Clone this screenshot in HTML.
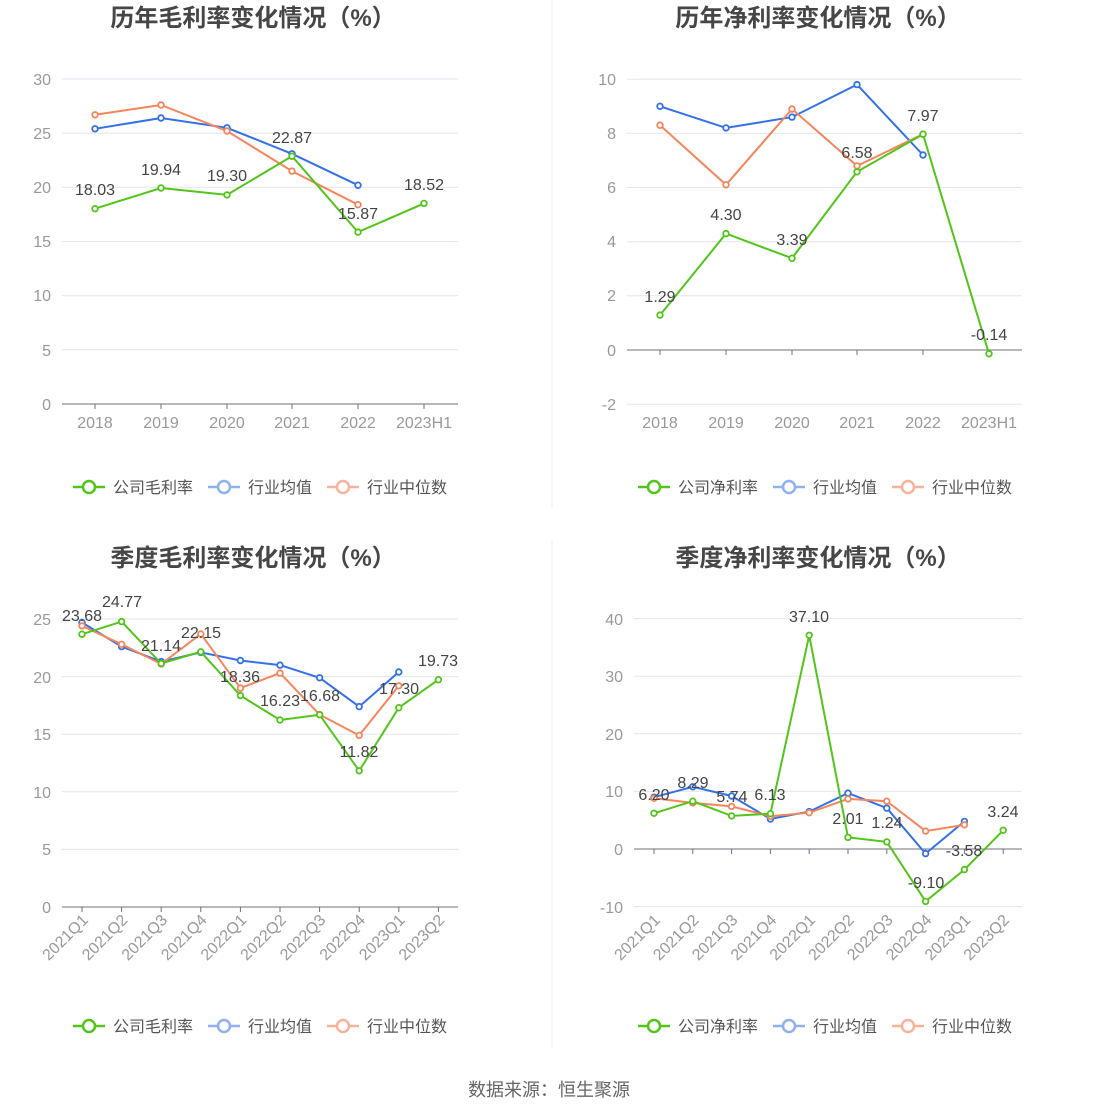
<!DOCTYPE html>
<html><head><meta charset="utf-8"><style>
body{margin:0;background:#fff;}
svg{display:block;font-family:"Liberation Sans","Noto Sans CJK SC",sans-serif;}
.t{font-size:24px;font-weight:bold;fill:#464646;text-anchor:middle}
.ax{font-size:16px;fill:#999;}
.g{stroke:#e3e6ee;stroke-width:1}
.dl{font-size:16px;fill:#444;text-anchor:middle}
.lg{font-size:16px;fill:#555}
</style></head><body>
<svg width="1098" height="1116" viewBox="0 0 1098 1116">
<defs>
<marker id="mg" markerUnits="userSpaceOnUse" markerWidth="10" markerHeight="10" refX="5" refY="5"><circle cx="5" cy="5" r="2.8" fill="#fff" stroke="#52c41a" stroke-width="1.8"/></marker>
<marker id="mb" markerUnits="userSpaceOnUse" markerWidth="10" markerHeight="10" refX="5" refY="5"><circle cx="5" cy="5" r="2.8" fill="#fff" stroke="#3470e8" stroke-width="1.8"/></marker>
<marker id="mo" markerUnits="userSpaceOnUse" markerWidth="10" markerHeight="10" refX="5" refY="5"><circle cx="5" cy="5" r="2.8" fill="#fff" stroke="#f5855b" stroke-width="1.8"/></marker>
</defs>
<style>
.lg1{fill:none;stroke:#52c41a;stroke-width:2;marker-start:url(#mg);marker-mid:url(#mg);marker-end:url(#mg)}
.lb{fill:none;stroke:#3470e8;stroke-width:2;marker-start:url(#mb);marker-mid:url(#mb);marker-end:url(#mb)}
.lo{fill:none;stroke:#f5855b;stroke-width:2;marker-start:url(#mo);marker-mid:url(#mo);marker-end:url(#mo)}
</style>
<line x1="552" y1="0" x2="552" y2="508" stroke="#eee"/>
<line x1="552" y1="540" x2="552" y2="1048" stroke="#eee"/>

<!-- Chart 1 -->
<text class="t" x="253" y="26">历年毛利率变化情况（%）</text>
<g class="g"><line x1="62" x2="458" y1="79" y2="79"/><line x1="62" x2="458" y1="133.2" y2="133.2"/><line x1="62" x2="458" y1="187.3" y2="187.3"/><line x1="62" x2="458" y1="241.5" y2="241.5"/><line x1="62" x2="458" y1="295.7" y2="295.7"/><line x1="62" x2="458" y1="349.8" y2="349.8"/></g>
<line x1="62" x2="458" y1="404" y2="404" stroke="#6e7079"/>
<g stroke="#6e7079"><line x1="95" x2="95" y1="404" y2="409"/><line x1="161" x2="161" y1="404" y2="409"/><line x1="227" x2="227" y1="404" y2="409"/><line x1="292" x2="292" y1="404" y2="409"/><line x1="358" x2="358" y1="404" y2="409"/><line x1="424" x2="424" y1="404" y2="409"/></g>
<g class="ax" text-anchor="end"><text x="51" y="85">30</text><text x="51" y="139">25</text><text x="51" y="193">20</text><text x="51" y="247">15</text><text x="51" y="301">10</text><text x="51" y="356">5</text><text x="51" y="410">0</text></g>
<g class="ax" text-anchor="middle"><text x="95" y="428">2018</text><text x="161" y="428">2019</text><text x="227" y="428">2020</text><text x="292" y="428">2021</text><text x="358" y="428">2022</text><text x="424" y="428">2023H1</text></g>
<polyline class="lb" points="95,128.8 161,118 227,127.8 292,153.8 358,185.2"/>
<polyline class="lo" points="95,114.8 161,105 227,131 292,171.1 358,204.7"/>
<polyline class="lg1" points="95,208.7 161,188 227,194.9 292,156.2 358,232.1 424,203.4"/>
<g class="dl"><text x="95" y="195">18.03</text><text x="161" y="175">19.94</text><text x="227" y="181">19.30</text><text x="292" y="143">22.87</text><text x="358" y="219">15.87</text><text x="424" y="190">18.52</text></g>

<!-- Chart 2 -->
<text class="t" x="818" y="26">历年净利率变化情况（%）</text>
<g class="g"><line x1="627" x2="1022" y1="79.2" y2="79.2"/><line x1="627" x2="1022" y1="133.4" y2="133.4"/><line x1="627" x2="1022" y1="187.5" y2="187.5"/><line x1="627" x2="1022" y1="241.7" y2="241.7"/><line x1="627" x2="1022" y1="295.8" y2="295.8"/><line x1="627" x2="1022" y1="404.2" y2="404.2"/></g>
<line x1="627" x2="1022" y1="350" y2="350" stroke="#6e7079"/>
<g stroke="#6e7079"><line x1="660" x2="660" y1="350" y2="355"/><line x1="726" x2="726" y1="350" y2="355"/><line x1="792" x2="792" y1="350" y2="355"/><line x1="857" x2="857" y1="350" y2="355"/><line x1="923" x2="923" y1="350" y2="355"/><line x1="989" x2="989" y1="350" y2="355"/></g>
<g class="ax" text-anchor="end"><text x="616" y="85">10</text><text x="616" y="139">8</text><text x="616" y="193">6</text><text x="616" y="247">4</text><text x="616" y="301">2</text><text x="616" y="356">0</text><text x="616" y="410">-2</text></g>
<g class="ax" text-anchor="middle"><text x="660" y="428">2018</text><text x="726" y="428">2019</text><text x="792" y="428">2020</text><text x="857" y="428">2021</text><text x="923" y="428">2022</text><text x="989" y="428">2023H1</text></g>
<polyline class="lb" points="660,106.3 726,127.9 792,117.1 857,84.6 923,155"/>
<polyline class="lo" points="660,125.2 726,184.8 792,109 857,165.9 923,134.2"/>
<polyline class="lg1" points="660,315.1 726,233.6 792,258.2 857,171.8 923,134.2 989,353.8"/>
<g class="dl"><text x="660" y="302">1.29</text><text x="726" y="220">4.30</text><text x="792" y="245">3.39</text><text x="857" y="158">6.58</text><text x="923" y="121">7.97</text><text x="989" y="340">-0.14</text></g>

<!-- Chart 3 -->
<text class="t" x="253" y="566">季度毛利率变化情况（%）</text>
<g class="g"><line x1="62" x2="458" y1="619" y2="619"/><line x1="62" x2="458" y1="676.6" y2="676.6"/><line x1="62" x2="458" y1="734.2" y2="734.2"/><line x1="62" x2="458" y1="791.8" y2="791.8"/><line x1="62" x2="458" y1="849.4" y2="849.4"/></g>
<line x1="62" x2="458" y1="907" y2="907" stroke="#6e7079"/>
<g stroke="#6e7079"><line x1="82" x2="82" y1="907" y2="912"/><line x1="121.6" x2="121.6" y1="907" y2="912"/><line x1="161.2" x2="161.2" y1="907" y2="912"/><line x1="200.8" x2="200.8" y1="907" y2="912"/><line x1="240.4" x2="240.4" y1="907" y2="912"/><line x1="280" x2="280" y1="907" y2="912"/><line x1="319.6" x2="319.6" y1="907" y2="912"/><line x1="359.2" x2="359.2" y1="907" y2="912"/><line x1="398.8" x2="398.8" y1="907" y2="912"/><line x1="438.4" x2="438.4" y1="907" y2="912"/></g>
<g class="ax" text-anchor="end"><text x="51" y="625">25</text><text x="51" y="683">20</text><text x="51" y="740">15</text><text x="51" y="798">10</text><text x="51" y="855">5</text><text x="51" y="913">0</text></g>
<g class="ax" text-anchor="end">
<text transform="translate(89,921) rotate(-45)">2021Q1</text><text transform="translate(128.6,921) rotate(-45)">2021Q2</text><text transform="translate(168.2,921) rotate(-45)">2021Q3</text><text transform="translate(207.8,921) rotate(-45)">2021Q4</text><text transform="translate(247.4,921) rotate(-45)">2022Q1</text><text transform="translate(287,921) rotate(-45)">2022Q2</text><text transform="translate(326.6,921) rotate(-45)">2022Q3</text><text transform="translate(366.2,921) rotate(-45)">2022Q4</text><text transform="translate(405.8,921) rotate(-45)">2023Q1</text><text transform="translate(445.4,921) rotate(-45)">2023Q2</text></g>
<polyline class="lb" points="82,622.5 121.6,646.6 161.2,661.6 200.8,652.4 240.4,660.5 280,665.1 319.6,677.8 359.2,706.6 398.8,672"/>
<polyline class="lo" points="82,625.9 121.6,644.3 161.2,664 200.8,634 240.4,688.1 280,673.1 319.6,714.6 359.2,735.4 398.8,685.8"/>
<polyline class="lg1" points="82,634.2 121.6,621.6 161.2,663.5 200.8,651.8 240.4,695.5 280,720 319.6,714.8 359.2,770.8 398.8,707.7 438.4,679.7"/>
<g class="dl"><text x="82" y="621">23.68</text><text x="122" y="607">24.77</text><text x="161" y="651">21.14</text><text x="201" y="638">22.15</text><text x="240" y="682">18.36</text><text x="280" y="706">16.23</text><text x="320" y="701">16.68</text><text x="359" y="757">11.82</text><text x="399" y="694">17.30</text><text x="438" y="666">19.73</text></g>

<!-- Chart 4 -->
<text class="t" x="818" y="566">季度净利率变化情况（%）</text>
<g class="g"><line x1="634" x2="1022" y1="618.6" y2="618.6"/><line x1="634" x2="1022" y1="676.2" y2="676.2"/><line x1="634" x2="1022" y1="733.8" y2="733.8"/><line x1="634" x2="1022" y1="791.4" y2="791.4"/><line x1="634" x2="1022" y1="906.6" y2="906.6"/></g>
<line x1="634" x2="1022" y1="849" y2="849" stroke="#6e7079"/>
<g stroke="#6e7079"><line x1="654" x2="654" y1="849" y2="854"/><line x1="692.8" x2="692.8" y1="849" y2="854"/><line x1="731.6" x2="731.6" y1="849" y2="854"/><line x1="770.4" x2="770.4" y1="849" y2="854"/><line x1="809.2" x2="809.2" y1="849" y2="854"/><line x1="848" x2="848" y1="849" y2="854"/><line x1="886.8" x2="886.8" y1="849" y2="854"/><line x1="925.6" x2="925.6" y1="849" y2="854"/><line x1="964.4" x2="964.4" y1="849" y2="854"/><line x1="1003.2" x2="1003.2" y1="849" y2="854"/></g>
<g class="ax" text-anchor="end"><text x="623" y="625">40</text><text x="623" y="682">30</text><text x="623" y="740">20</text><text x="623" y="797">10</text><text x="623" y="855">0</text><text x="623" y="913">-10</text></g>
<g class="ax" text-anchor="end">
<text transform="translate(661,921) rotate(-45)">2021Q1</text><text transform="translate(699.8,921) rotate(-45)">2021Q2</text><text transform="translate(738.6,921) rotate(-45)">2021Q3</text><text transform="translate(777.4,921) rotate(-45)">2021Q4</text><text transform="translate(816.2,921) rotate(-45)">2022Q1</text><text transform="translate(855,921) rotate(-45)">2022Q2</text><text transform="translate(893.8,921) rotate(-45)">2022Q3</text><text transform="translate(932.6,921) rotate(-45)">2022Q4</text><text transform="translate(971.4,921) rotate(-45)">2023Q1</text><text transform="translate(1010.2,921) rotate(-45)">2023Q2</text></g>
<polyline class="lb" points="654,797.2 692.8,786.8 731.6,796 770.4,819 809.2,811.6 848,793.1 886.8,808.1 925.6,853.6 964.4,821.4"/>
<polyline class="lo" points="654,798.3 692.8,802.9 731.6,806.4 770.4,816.2 809.2,812.7 848,798.9 886.8,801.2 925.6,831.1 964.4,824.8"/>
<polyline class="lg1" points="654,813.3 692.8,801.2 731.6,815.9 770.4,813.7 809.2,635.3 848,837.4 886.8,841.9 925.6,901.4 964.4,869.6 1003.2,830.3"/>
<g class="dl"><text x="654" y="800">6.20</text><text x="693" y="788">8.29</text><text x="732" y="802">5.74</text><text x="770" y="800">6.13</text><text x="809" y="622">37.10</text><text x="848" y="824">2.01</text><text x="887" y="828">1.24</text><text x="926" y="888">-9.10</text><text x="964" y="856">-3.58</text><text x="1003" y="817">3.24</text></g>

<!-- Legends -->
<g>
<line x1="73" x2="105" y1="487" y2="487" stroke="#52c41a" stroke-width="2.5"/><circle cx="89" cy="487" r="6" fill="#fff" stroke="#52c41a" stroke-width="2.5"/>
<text class="lg" x="113" y="493">公司毛利率</text>
<line x1="208" x2="240" y1="487" y2="487" stroke="#8fb0f2" stroke-width="2.5"/><circle cx="224" cy="487" r="6" fill="#fff" stroke="#8fb0f2" stroke-width="2.5"/>
<text class="lg" x="248" y="493">行业均值</text>
<line x1="327" x2="359" y1="487" y2="487" stroke="#f8b49b" stroke-width="2.5"/><circle cx="343" cy="487" r="6" fill="#fff" stroke="#f8b49b" stroke-width="2.5"/>
<text class="lg" x="367" y="493">行业中位数</text>
</g>
<g transform="translate(565,0)">
<line x1="73" x2="105" y1="487" y2="487" stroke="#52c41a" stroke-width="2.5"/><circle cx="89" cy="487" r="6" fill="#fff" stroke="#52c41a" stroke-width="2.5"/>
<text class="lg" x="113" y="493">公司净利率</text>
<line x1="208" x2="240" y1="487" y2="487" stroke="#8fb0f2" stroke-width="2.5"/><circle cx="224" cy="487" r="6" fill="#fff" stroke="#8fb0f2" stroke-width="2.5"/>
<text class="lg" x="248" y="493">行业均值</text>
<line x1="327" x2="359" y1="487" y2="487" stroke="#f8b49b" stroke-width="2.5"/><circle cx="343" cy="487" r="6" fill="#fff" stroke="#f8b49b" stroke-width="2.5"/>
<text class="lg" x="367" y="493">行业中位数</text>
</g>
<g transform="translate(0,539)">
<line x1="73" x2="105" y1="487" y2="487" stroke="#52c41a" stroke-width="2.5"/><circle cx="89" cy="487" r="6" fill="#fff" stroke="#52c41a" stroke-width="2.5"/>
<text class="lg" x="113" y="493">公司毛利率</text>
<line x1="208" x2="240" y1="487" y2="487" stroke="#8fb0f2" stroke-width="2.5"/><circle cx="224" cy="487" r="6" fill="#fff" stroke="#8fb0f2" stroke-width="2.5"/>
<text class="lg" x="248" y="493">行业均值</text>
<line x1="327" x2="359" y1="487" y2="487" stroke="#f8b49b" stroke-width="2.5"/><circle cx="343" cy="487" r="6" fill="#fff" stroke="#f8b49b" stroke-width="2.5"/>
<text class="lg" x="367" y="493">行业中位数</text>
</g>
<g transform="translate(565,539)">
<line x1="73" x2="105" y1="487" y2="487" stroke="#52c41a" stroke-width="2.5"/><circle cx="89" cy="487" r="6" fill="#fff" stroke="#52c41a" stroke-width="2.5"/>
<text class="lg" x="113" y="493">公司净利率</text>
<line x1="208" x2="240" y1="487" y2="487" stroke="#8fb0f2" stroke-width="2.5"/><circle cx="224" cy="487" r="6" fill="#fff" stroke="#8fb0f2" stroke-width="2.5"/>
<text class="lg" x="248" y="493">行业均值</text>
<line x1="327" x2="359" y1="487" y2="487" stroke="#f8b49b" stroke-width="2.5"/><circle cx="343" cy="487" r="6" fill="#fff" stroke="#f8b49b" stroke-width="2.5"/>
<text class="lg" x="367" y="493">行业中位数</text>
</g>
<text x="549" y="1096" text-anchor="middle" style="font-size:18px;fill:#666">数据来源：恒生聚源</text>
</svg>
</body></html>
